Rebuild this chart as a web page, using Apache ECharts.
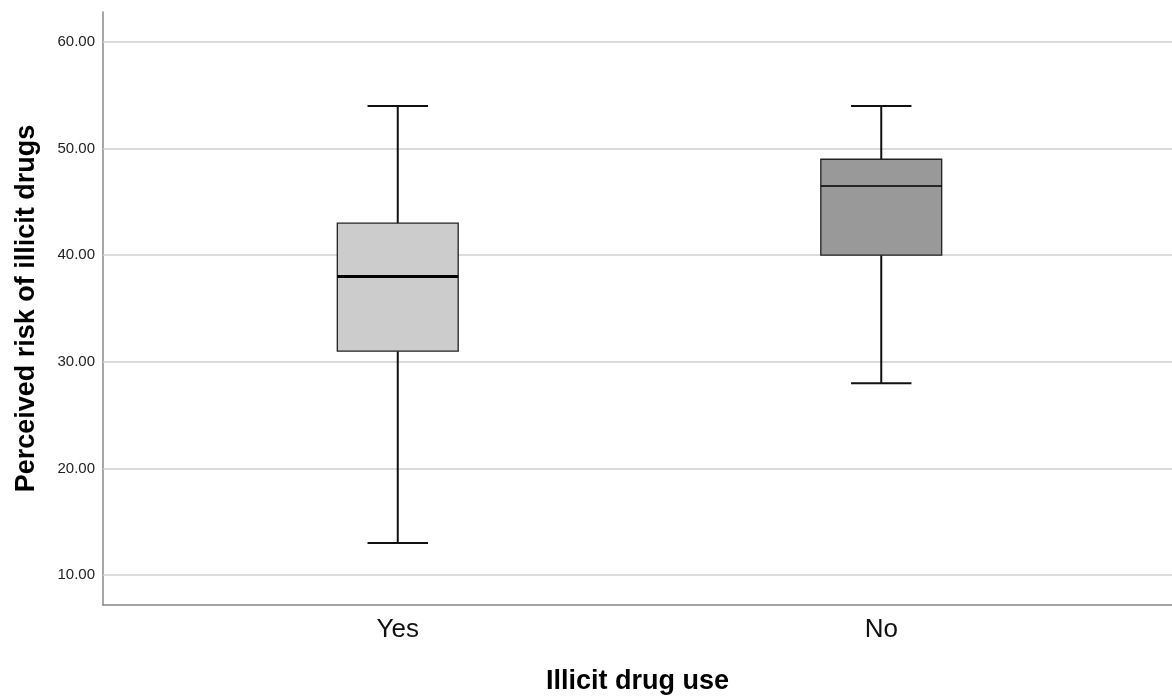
<!DOCTYPE html>
<html>
<head>
<meta charset="utf-8">
<script src="https://cdn.jsdelivr.net/npm/echarts@6/dist/echarts.min.js"></script>
<style>
html,body{margin:0;padding:0;background:#fff;overflow:hidden;}
#chart{width:1172px;height:697px;}
</style>
</head>
<body>
<div id="chart"></div>
<script>
// ---- data ----
const categories = ['Yes', 'No'];
const whiskerLow = [13, 28];
const q1 = [31, 40];
const median = [38, 46.5];
const q3 = [43, 49];
const whiskerHigh = [54, 54];
const yTicks = [10, 20, 30, 40, 50, 60];
const yMin = 7.19;
const yMax = 62.81;

// ---- styles ----
const fills = ['#cccccc', '#999999'];
const medianWidths = [3, 1.5];
const FONT = '"Liberation Sans", Arial, sans-serif';

const boxData = categories.map((c, i) => [i, whiskerLow[i], q1[i], median[i], q3[i], whiskerHigh[i]]);

const chart = echarts.init(document.getElementById('chart'));
chart.setOption({
  animation: false,
  backgroundColor: '#fff',
  grid: [
    { left: 103, right: 0, top: 12, bottom: 92, containLabel: false, outerBoundsMode: 'none' },
    { left: 156, right: 49, top: 12, bottom: 92, containLabel: false, outerBoundsMode: 'none' }
  ],
  xAxis: [
    {
      gridIndex: 0, type: 'value', min: 0, max: 1,
      axisLine: { show: true, lineStyle: { color: '#888', width: 1.5 } },
      axisTick: { show: false }, axisLabel: { show: false }, splitLine: { show: false },
      name: 'Illicit drug use', nameLocation: 'middle', nameGap: 63,
      nameTextStyle: { fontFamily: FONT, fontWeight: 'bold', fontSize: 27, color: '#000' }
    },
    {
      gridIndex: 1, type: 'category', data: categories, boundaryGap: true,
      axisLine: { show: false }, axisTick: { show: false }, splitLine: { show: false },
      axisLabel: { fontFamily: FONT, fontSize: 26, color: '#111', margin: 12 }
    }
  ],
  yAxis: [
    {
      gridIndex: 0, type: 'value', min: yMin, max: yMax,
      axisLine: { show: true, lineStyle: { color: '#888', width: 1.5 } },
      axisTick: { show: false },
      splitLine: { show: false },
      axisLabel: {
        customValues: yTicks,
        fontFamily: FONT, fontSize: 15, color: '#222', margin: 8,
        formatter: v => (Math.abs(v / 10 - Math.round(v / 10)) < 1e-6 ? Number(v).toFixed(2) : '')
      },
      name: 'Perceived risk of illicit drugs', nameLocation: 'middle', nameGap: 63, nameRotate: 90,
      nameTextStyle: { fontFamily: FONT, fontWeight: 'bold', fontSize: 27, color: '#000' }
    },
    {
      gridIndex: 1, type: 'value', min: yMin, max: yMax, show: false
    }
  ],
  series: [
    {
      type: 'scatter', xAxisIndex: 0, yAxisIndex: 0, data: [], silent: true, z: 1,
      markLine: {
        silent: true, symbol: 'none', animation: false,
        label: { show: false },
        lineStyle: { color: '#cfcfcf', width: 1.5, type: 'solid' },
        data: yTicks.map(v => ({ yAxis: v }))
      }
    },
    {
      type: 'custom', xAxisIndex: 1, yAxisIndex: 1, z: 5, silent: true,
      data: boxData,
      renderItem: function (params, api) {
        const i = params.dataIndex;
        const x = api.value(0);
        const pLo = api.coord([x, api.value(1)]);
        const pQ1 = api.coord([x, api.value(2)]);
        const pMed = api.coord([x, api.value(3)]);
        const pQ3 = api.coord([x, api.value(4)]);
        const pHi = api.coord([x, api.value(5)]);
        const band = api.size([1, 0])[0];
        const bw = band * 0.25;
        const cw = bw / 2;
        const cx = pMed[0];
        const wStyle = { stroke: '#111', lineWidth: 2 };
        return {
          type: 'group',
          children: [
            { type: 'line', shape: { x1: cx, y1: pLo[1], x2: cx, y2: pQ1[1] }, style: wStyle },
            { type: 'line', shape: { x1: cx, y1: pQ3[1], x2: cx, y2: pHi[1] }, style: wStyle },
            { type: 'line', shape: { x1: cx - cw / 2, y1: pLo[1], x2: cx + cw / 2, y2: pLo[1] }, style: wStyle },
            { type: 'line', shape: { x1: cx - cw / 2, y1: pHi[1], x2: cx + cw / 2, y2: pHi[1] }, style: wStyle },
            { type: 'rect', shape: { x: cx - bw / 2, y: pQ3[1], width: bw, height: pQ1[1] - pQ3[1] },
              style: { fill: fills[i], stroke: '#222', lineWidth: 1.3 } },
            { type: 'line', shape: { x1: cx - bw / 2, y1: pMed[1], x2: cx + bw / 2, y2: pMed[1] },
              style: { stroke: '#000', lineWidth: medianWidths[i] } }
          ]
        };
      }
    }
  ]
});
</script>
</body>
</html>
